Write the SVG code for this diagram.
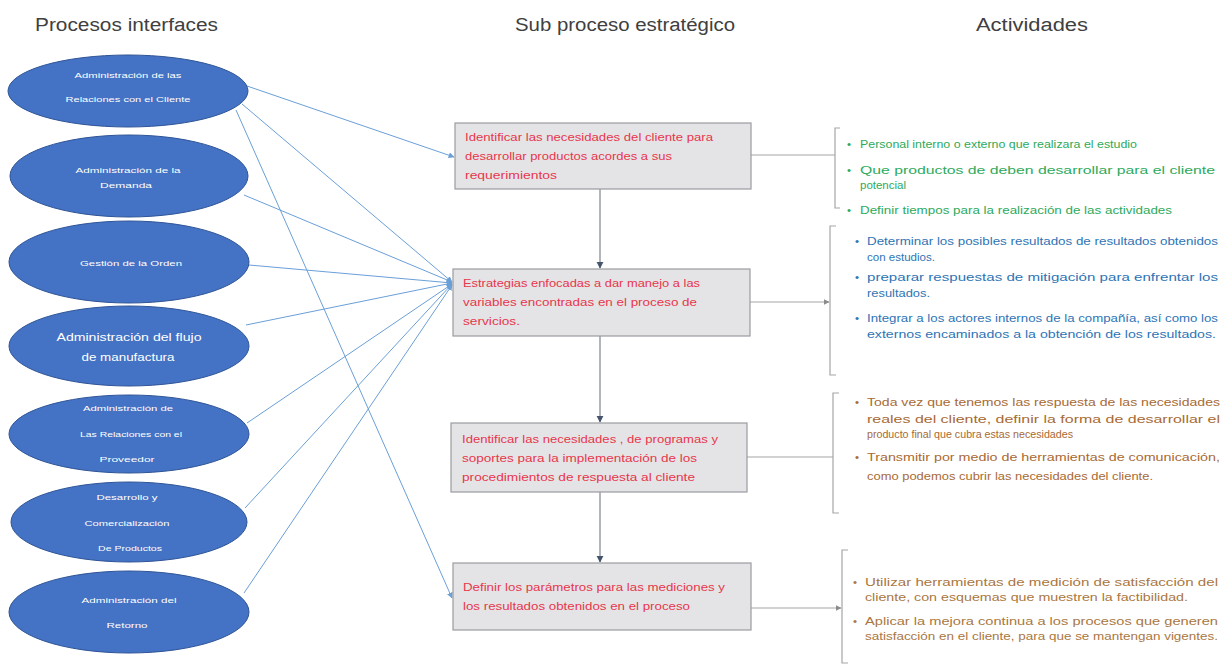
<svg xmlns="http://www.w3.org/2000/svg" width="1227" height="666" viewBox="0 0 1227 666">
<style>
.hdr{font-family:"Liberation Sans",Arial,sans-serif;font-size:18px;fill:#404040}
.ell{fill:#4472c4;stroke:#2f5597;stroke-width:1}
.et{font-family:"Liberation Sans",Arial,sans-serif;font-size:8px;fill:#ffffff;text-anchor:middle}
.et2{font-family:"Liberation Sans",Arial,sans-serif;font-size:11px;fill:#ffffff;text-anchor:middle}
.box{fill:#e4e4e6;stroke:#9a9ca0;stroke-width:1.2}
.bt{font-family:"Liberation Sans",Arial,sans-serif;font-size:11px;fill:#e8364c}
.lk{stroke:#6a9fd8;stroke-width:1;fill:none}
.vk{stroke:#7f8590;stroke-width:1.2;fill:none}
.br{stroke:#a6a6a6;stroke-width:1.2;fill:none}
.rt{font-family:"Liberation Sans",Arial,sans-serif;font-size:11.5px}
.g1{fill:#2eaa5c}
.g2{fill:#2e74b5}
.g3{fill:#a86a34}
.g4{fill:#a9773f}
</style>
<defs>
<marker id="ab" viewBox="0 0 10 10" refX="9" refY="5" markerWidth="6" markerHeight="6" orient="auto">
<path d="M0,0 L10,5 L0,10 z" fill="#6a9fd8"/>
</marker>
<marker id="ad" viewBox="0 0 10 10" refX="9" refY="5" markerWidth="6" markerHeight="6" orient="auto">
<path d="M0,0 L10,5 L0,10 z" fill="#44546a"/>
</marker>
<marker id="ag" viewBox="0 0 10 10" refX="9" refY="5" markerWidth="5" markerHeight="5" orient="auto">
<path d="M0,0 L10,5 L0,10 z" fill="#8c8c8c"/>
</marker>
</defs>
<rect width="1227" height="666" fill="#ffffff"/>

<g id="headers">
<text class="hdr" x="35" y="31" textLength="183" lengthAdjust="spacingAndGlyphs">Procesos interfaces</text>
<text class="hdr" x="515" y="31" textLength="220" lengthAdjust="spacingAndGlyphs">Sub proceso estratégico</text>
<text class="hdr" x="976" y="31" textLength="112" lengthAdjust="spacingAndGlyphs">Actividades</text>
</g>

<g id="connectors">
<line class="lk" x1="247" y1="86" x2="454" y2="157" marker-end="url(#ab)"/>
<line class="lk" x1="242" y1="104" x2="452" y2="282" marker-end="url(#ab)"/>
<line class="lk" x1="236" y1="110" x2="452" y2="598" marker-end="url(#ab)"/>
<line class="lk" x1="244" y1="195" x2="452" y2="282" marker-end="url(#ab)"/>
<line class="lk" x1="249" y1="265" x2="452" y2="283" marker-end="url(#ab)"/>
<line class="lk" x1="246" y1="325" x2="452" y2="283" marker-end="url(#ab)"/>
<line class="lk" x1="247" y1="423" x2="452" y2="284" marker-end="url(#ab)"/>
<line class="lk" x1="245" y1="508" x2="452" y2="284" marker-end="url(#ab)"/>
<line class="lk" x1="244" y1="593" x2="452" y2="285" marker-end="url(#ab)"/>
<line class="vk" x1="600" y1="189" x2="600" y2="268" marker-end="url(#ad)"/>
<line class="vk" x1="600" y1="336" x2="600" y2="422" marker-end="url(#ad)"/>
<line class="vk" x1="600" y1="492" x2="600" y2="562" marker-end="url(#ad)"/>
<line class="br" x1="751" y1="155" x2="835" y2="155"/>
<line class="br" x1="750" y1="302" x2="829" y2="302" marker-end="url(#ag)"/>
<line class="br" x1="747" y1="457" x2="833" y2="457"/>
<line class="br" x1="751" y1="608" x2="841" y2="608" marker-end="url(#ag)"/>
<path class="br" d="M840,128 H835 V208 H840"/>
<path class="br" d="M836,226 H830 V375 H836"/>
<path class="br" d="M839,393 H833 V513 H839"/>
<path class="br" d="M848,550 H842 V663 H848"/>
</g>

<g id="e1">
<ellipse class="ell" cx="128" cy="91" rx="120" ry="36"/>
<text class="et" x="128" y="78" textLength="107" lengthAdjust="spacingAndGlyphs">Administración de las</text>
<text class="et" x="128" y="102" textLength="125" lengthAdjust="spacingAndGlyphs">Relaciones con el Cliente</text>
</g>
<g id="e2">
<ellipse class="ell" cx="129" cy="176" rx="119" ry="41"/>
<text class="et" x="128" y="173" textLength="105" lengthAdjust="spacingAndGlyphs">Administración de la</text>
<text class="et" x="126" y="188" textLength="52" lengthAdjust="spacingAndGlyphs">Demanda</text>
</g>
<g id="e3">
<ellipse class="ell" cx="129" cy="262" rx="120" ry="41"/>
<text class="et" x="131" y="266" textLength="102" lengthAdjust="spacingAndGlyphs">Gestión de la Orden</text>
</g>
<g id="e4">
<ellipse class="ell" cx="129" cy="346" rx="120" ry="40"/>
<text class="et2" x="129" y="341" textLength="145" lengthAdjust="spacingAndGlyphs">Administración del flujo</text>
<text class="et2" x="128" y="361" textLength="93" lengthAdjust="spacingAndGlyphs">de manufactura</text>
</g>
<g id="e5">
<ellipse class="ell" cx="129" cy="434" rx="120" ry="39"/>
<text class="et" x="128" y="411" textLength="90" lengthAdjust="spacingAndGlyphs">Administración de</text>
<text class="et" x="131" y="437" textLength="102" lengthAdjust="spacingAndGlyphs">Las Relaciones con el</text>
<text class="et" x="127" y="462" textLength="55" lengthAdjust="spacingAndGlyphs">Proveedor</text>
</g>
<g id="e6">
<ellipse class="ell" cx="129" cy="522" rx="118" ry="40"/>
<text class="et" x="127" y="500" textLength="61" lengthAdjust="spacingAndGlyphs">Desarrollo y</text>
<text class="et" x="127" y="526" textLength="85" lengthAdjust="spacingAndGlyphs">Comercialización</text>
<text class="et" x="130" y="551" textLength="64" lengthAdjust="spacingAndGlyphs">De Productos</text>
</g>
<g id="e7">
<ellipse class="ell" cx="129" cy="612" rx="120" ry="41"/>
<text class="et" x="129" y="603" textLength="95" lengthAdjust="spacingAndGlyphs">Administración del</text>
<text class="et" x="127" y="628" textLength="41" lengthAdjust="spacingAndGlyphs">Retorno</text>
</g>

<g id="b1">
<rect class="box" x="455" y="123" width="296" height="66"/>
<text class="bt" x="465" y="141" textLength="248" lengthAdjust="spacingAndGlyphs">Identificar las necesidades del cliente para</text>
<text class="bt" x="465" y="160" textLength="207" lengthAdjust="spacingAndGlyphs">desarrollar productos acordes a sus</text>
<text class="bt" x="465" y="179" textLength="92" lengthAdjust="spacingAndGlyphs">requerimientos</text>
</g>
<g id="b2">
<rect class="box" x="453" y="269" width="297" height="67"/>
<text class="bt" x="463" y="287" textLength="237" lengthAdjust="spacingAndGlyphs">Estrategias enfocadas a dar manejo a las</text>
<text class="bt" x="463" y="306" textLength="234" lengthAdjust="spacingAndGlyphs">variables encontradas en el proceso de</text>
<text class="bt" x="463" y="325" textLength="57" lengthAdjust="spacingAndGlyphs">servicios.</text>
</g>
<g id="b3">
<rect class="box" x="451" y="423" width="296" height="69"/>
<text class="bt" x="462" y="443" textLength="256" lengthAdjust="spacingAndGlyphs">Identificar las necesidades , de programas y</text>
<text class="bt" x="462" y="462" textLength="235" lengthAdjust="spacingAndGlyphs">soportes para la implementación de los</text>
<text class="bt" x="462" y="481" textLength="233" lengthAdjust="spacingAndGlyphs">procedimientos de respuesta al cliente</text>
</g>
<g id="b4">
<rect class="box" x="453" y="563" width="298" height="67"/>
<text class="bt" x="463" y="591" textLength="262" lengthAdjust="spacingAndGlyphs">Definir los parámetros para las mediciones y</text>
<text class="bt" x="463" y="610" textLength="227" lengthAdjust="spacingAndGlyphs">los resultados obtenidos en el proceso</text>
</g>

<g id="a1" class="rt g1">
<text x="847" y="148">•</text>
<text x="860" y="148" textLength="277" lengthAdjust="spacingAndGlyphs">Personal interno o externo que realizara el estudio</text>
<text x="847" y="174">•</text>
<text x="860" y="174" textLength="355" lengthAdjust="spacingAndGlyphs">Que productos de deben desarrollar para el cliente</text>
<text x="860" y="189" textLength="46" lengthAdjust="spacingAndGlyphs">potencial</text>
<text x="847" y="214">•</text>
<text x="860" y="214" textLength="312" lengthAdjust="spacingAndGlyphs">Definir tiempos para la realización de las actividades</text>
</g>
<g id="a2" class="rt g2">
<text x="855" y="245">•</text>
<text x="867" y="245" textLength="351" lengthAdjust="spacingAndGlyphs">Determinar los posibles resultados de resultados obtenidos</text>
<text x="867" y="261" textLength="68" lengthAdjust="spacingAndGlyphs">con estudios.</text>
<text x="855" y="281">•</text>
<text x="867" y="281" textLength="351" lengthAdjust="spacingAndGlyphs">preparar respuestas de mitigación para enfrentar los</text>
<text x="867" y="297" textLength="63" lengthAdjust="spacingAndGlyphs">resultados.</text>
<text x="855" y="322">•</text>
<text x="867" y="322" textLength="351" lengthAdjust="spacingAndGlyphs">Integrar a los actores internos de la compañía, así como los</text>
<text x="867" y="338" textLength="349" lengthAdjust="spacingAndGlyphs">externos encaminados a la obtención de los resultados.</text>
</g>
<g id="a3" class="rt g3">
<text x="855" y="406">•</text>
<text x="867" y="406" textLength="353" lengthAdjust="spacingAndGlyphs">Toda vez que tenemos las respuesta de las necesidades</text>
<text x="867" y="423" textLength="353" lengthAdjust="spacingAndGlyphs">reales del cliente, definir la forma de desarrollar el</text>
<text x="867" y="438" textLength="206" lengthAdjust="spacingAndGlyphs">producto final que cubra estas necesidades</text>
<text x="855" y="461">•</text>
<text x="867" y="461" textLength="353" lengthAdjust="spacingAndGlyphs">Transmitir por medio de herramientas de comunicación,</text>
<text x="867" y="480" textLength="286" lengthAdjust="spacingAndGlyphs">como podemos cubrir las necesidades del cliente.</text>
</g>
<g id="a4" class="rt g4">
<text x="853" y="586">•</text>
<text x="865" y="586" textLength="353" lengthAdjust="spacingAndGlyphs">Utilizar herramientas de medición de satisfacción del</text>
<text x="865" y="601" textLength="323" lengthAdjust="spacingAndGlyphs">cliente, con esquemas que muestren la factibilidad.</text>
<text x="853" y="625">•</text>
<text x="865" y="625" textLength="353" lengthAdjust="spacingAndGlyphs">Aplicar la mejora continua a los procesos que generen</text>
<text x="865" y="640" textLength="353" lengthAdjust="spacingAndGlyphs">satisfacción en el cliente, para que se mantengan vigentes.</text>
</g>
</svg>
